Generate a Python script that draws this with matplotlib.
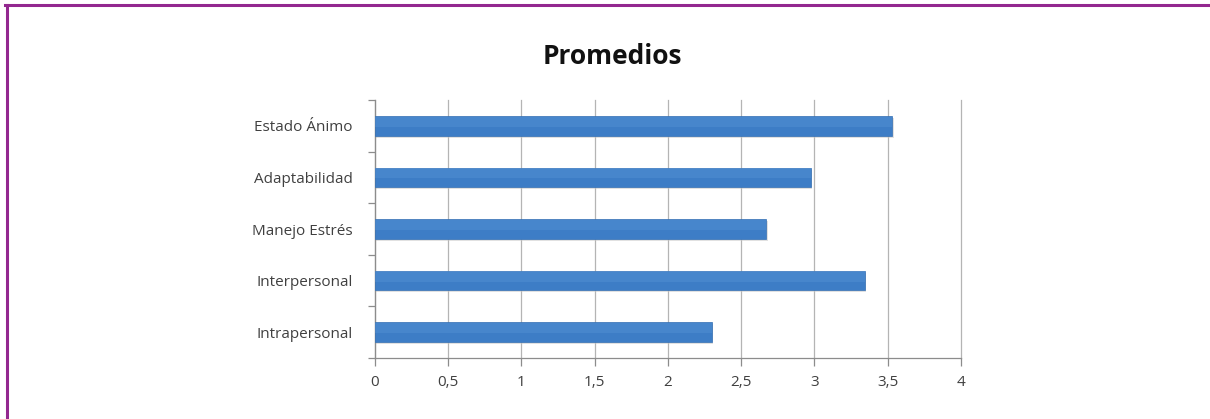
import matplotlib.pyplot as plt
from matplotlib.lines import Line2D

categories = ["Intrapersonal", "Interpersonal", "Manejo Estrés", "Adaptabilidad", "Estado Ánimo"]
values = [2.30, 3.345, 2.67, 2.975, 3.53]
xticks = [0, 0.5, 1, 1.5, 2, 2.5, 3, 3.5, 4]
xtick_labels = ["0", "0,5", "1", "1,5", "2", "2,5", "3", "3,5", "4"]

plt.rcParams["font.family"] = ["Open Sans", "DejaVu Sans"]

BAR = "#3d7dc6"
AXIS = "#8c8c8c"
TXT = "#404040"

fig = plt.figure(figsize=(12.1, 4.19), dpi=100)
ax = fig.add_axes([0.3099, 0.1456, 0.4843, 0.6157])

ypos = list(range(len(categories)))
# soft shadow under each bar
ax.barh([y - 0.04 for y in ypos], [v + 0.01 for v in values], height=0.38,
        color="#c4c4c4", alpha=0.5, zorder=2)
ax.barh(ypos, values, height=0.38, color=BAR, edgecolor="#346fb3", lw=0.5, zorder=3)
# faint lighter top half for the Excel-like gradient
ax.barh([y + 0.08 for y in ypos], values, height=0.2, color="#5b97d8",
        lw=0, zorder=4, alpha=0.35)

ax.set_xlim(0, 4)
ax.set_ylim(-0.5, 4.5)
ax.set_xticks(xticks)
ax.set_xticklabels(xtick_labels)
ax.set_yticks(ypos)
ax.set_yticklabels(categories)
ax.set_yticks([i - 0.5 for i in range(6)], minor=True)
ax.tick_params(axis="y", which="major", length=0, pad=16, labelsize=11, labelcolor=TXT)
ax.tick_params(axis="y", which="minor", length=5, color=AXIS, width=0.9)
ax.tick_params(axis="x", length=6, color=AXIS, width=0.9, labelsize=11,
               labelcolor=TXT, pad=6)

ax.grid(axis="x", color="#b4b4b4", lw=0.9, zorder=0)
for gl in ax.get_xgridlines():
    gl.set_clip_on(False)
ax.set_axisbelow(True)
for s in ("top", "right"):
    ax.spines[s].set_visible(False)
for s in ("left", "bottom"):
    ax.spines[s].set_color(AXIS)
    ax.spines[s].set_linewidth(0.9)

fig.text(0.506, 0.865, "Promedios", ha="center", va="center",
         fontsize=19, fontweight="bold", color="#111111")

# purple frame lines along the top and left edge
fig.add_artist(Line2D([0.004, 1.0], [0.988, 0.988], color="#93278f", lw=2.2,
                      transform=fig.transFigure))
fig.add_artist(Line2D([0.0055, 0.0055], [0.0, 0.988], color="#93278f", lw=2.2,
                      transform=fig.transFigure))

fig.savefig("out.png", dpi=100)
